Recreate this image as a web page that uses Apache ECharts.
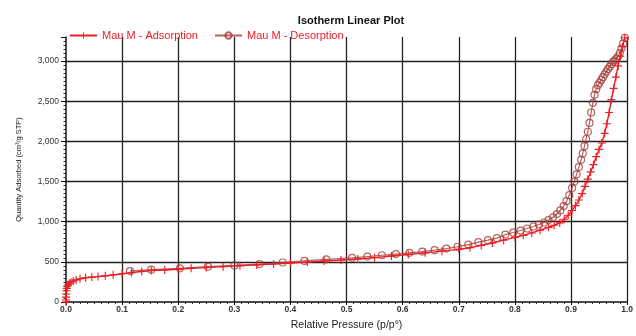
<!DOCTYPE html>
<html>
<head>
<meta charset="utf-8">
<script src="https://cdn.jsdelivr.net/npm/echarts@6/dist/echarts.min.js"></script>
<style>
  html, body { margin: 0; padding: 0; background: #fff; }
  #chart { width: 636px; height: 336px; }
</style>
</head>
<body>
<div id="chart"></div>
<script>
// Nitrogen isotherm, sample "Mau M" — relative pressure vs quantity adsorbed (cm³/g STP)
const adsP = [0, 0.0001, 0.0003, 0.0006, 0.001, 0.0015, 0.0025, 0.004, 0.006, 0.009,
  0.013, 0.018, 0.025, 0.035, 0.046, 0.057, 0.07, 0.084, 0.1, 0.117,
  0.135, 0.152, 0.176, 0.2, 0.223, 0.25, 0.28, 0.31, 0.34, 0.37,
  0.4, 0.43, 0.46, 0.49, 0.52, 0.55, 0.58, 0.61, 0.64, 0.67,
  0.7, 0.72, 0.74, 0.76, 0.78, 0.8, 0.815, 0.83, 0.845, 0.86,
  0.87, 0.88, 0.888, 0.895, 0.902, 0.908, 0.914, 0.92, 0.925, 0.93,
  0.935, 0.94, 0.945, 0.95, 0.955, 0.96, 0.964, 0.968, 0.972, 0.976,
  0.98, 0.984, 0.988, 0.992, 0.996];
const adsV = [0, 25, 60, 100, 140, 170, 198, 215, 233, 250,
  262, 275, 290, 302, 310, 317, 326, 338, 352, 366,
  380, 393, 398, 407, 419, 430, 440, 451, 462, 473,
  485, 497, 510, 522, 536, 552, 572, 592, 612, 633,
  656, 675, 705, 735, 770, 805, 830, 860, 895, 930,
  955, 985, 1030, 1080, 1140, 1200, 1270, 1350, 1440, 1530,
  1620, 1710, 1810, 1900, 1980, 2100, 2220, 2360, 2520, 2660,
  2800, 2940, 3060, 3180, 3290];

const desP = [0.996, 0.993, 0.99, 0.987, 0.984, 0.981, 0.978, 0.975, 0.972, 0.969,
  0.966, 0.963, 0.96, 0.957, 0.954, 0.951, 0.948, 0.945, 0.942, 0.939,
  0.936, 0.933, 0.93, 0.927, 0.924, 0.921, 0.918, 0.914, 0.91, 0.906,
  0.902, 0.897, 0.892, 0.887, 0.881, 0.875, 0.868, 0.86, 0.852, 0.843,
  0.833, 0.822, 0.81, 0.797, 0.783, 0.768, 0.752, 0.735, 0.717, 0.698,
  0.678, 0.657, 0.635, 0.612, 0.588, 0.563, 0.537, 0.51, 0.464, 0.425,
  0.386, 0.345, 0.3, 0.253, 0.203, 0.152, 0.114];
const desV = [3290, 3220, 3160, 3100, 3060, 3030, 3010, 2990, 2960, 2930,
  2900, 2870, 2835, 2800, 2765, 2730, 2700, 2650, 2580, 2480,
  2360, 2230, 2120, 2030, 1940, 1850, 1770, 1680, 1590, 1500,
  1420, 1330, 1255, 1195, 1140, 1095, 1055, 1020, 990, 965,
  940, 915, 890, 865, 840, 795, 770, 745, 715, 688,
  665, 645, 628, 612, 597, 582, 566, 550, 531, 512,
  492, 473, 455, 440, 419, 402, 385];

const seriesNames = ['Mau M - Adsorption', 'Mau M - Desorption'];
const chartTitle = 'Isotherm Linear Plot';
const xAxisTitle = 'Relative Pressure (p/p°)';
const yAxisTitle = 'Quantity Adsorbed (cm³/g STP)';

const zip = (xs, ys) => xs.map((x, i) => [x, ys[i]]);
const plusMark = 'path://M-0.7,-5H0.7V-0.7H5V0.7H0.7V5H-0.7V0.7H-5V-0.7H-0.7Z';

const FONT = '"Liberation Sans", Arial, sans-serif';
const ADS_RED = '#ee1c24';
const DES_RED = '#a8423e';

const chart = echarts.init(document.getElementById('chart'), null, { renderer: 'canvas' });
chart.setOption({
  animation: false,
  backgroundColor: '#fff',
  title: {
    text: chartTitle,
    left: 346, top: 10, textAlign: 'center',
    textStyle: { fontFamily: FONT, fontSize: 11, fontWeight: 'bold', color: '#111' }
  },
  legend: {
    left: 64, top: 25,
    itemWidth: 27, itemHeight: 8, itemGap: 16,
    textStyle: { fontFamily: FONT, fontSize: 11, color: ADS_RED },
    data: seriesNames
  },
  grid: { left: 66, right: 8, top: 37, bottom: 16, containLabel: false },
  xAxis: {
    type: 'value', min: 0, max: 1, interval: 0.1,
    name: xAxisTitle, nameLocation: 'middle', nameGap: 18,
    nameTextStyle: { fontFamily: FONT, fontSize: 10.5, color: '#222' },
    axisLine: { show: true, onZero: false, lineStyle: { color: '#111', width: 1.5 } },
    axisTick: { show: true, length: 3, lineStyle: { color: '#111' } },
    minorTick: { show: true, splitNumber: 8, length: 2, lineStyle: { color: '#333' } },
    axisLabel: {
      fontFamily: FONT, fontSize: 8.5, fontWeight: 'bold', color: '#333', margin: 3,
      formatter: v => v.toFixed(1)
    },
    splitLine: { show: true, showMinLine: false, lineStyle: { color: '#222', width: 1.3 } }
  },
  yAxis: {
    type: 'value', min: 0, max: 3300, interval: 500,
    name: yAxisTitle, nameLocation: 'middle', nameGap: 43, nameRotate: 90,
    nameTextStyle: { fontFamily: FONT, fontSize: 7.5, color: '#222' },
    axisLine: { show: true, onZero: false, lineStyle: { color: '#111', width: 1.5 } },
    axisTick: { show: true, length: 5, lineStyle: { color: '#111' } },
    minorTick: { show: true, splitNumber: 10, length: 2.5, lineStyle: { color: '#333' } },
    axisLabel: {
      fontFamily: FONT, fontSize: 8.5, color: '#333', margin: 7, showMaxLabel: false,
      formatter: v => v.toLocaleString('en-US')
    },
    splitLine: { show: true, showMinLine: false, showMaxLine: false, lineStyle: { color: '#222', width: 1.3 } }
  },
  series: [
    {
      name: seriesNames[0], type: 'line',
      data: zip(adsP, adsV),
      symbol: plusMark, symbolSize: 8, showAllSymbol: true,
      lineStyle: { color: ADS_RED, width: 1.4 },
      itemStyle: { color: ADS_RED },
      z: 3
    },
    {
      name: seriesNames[1], type: 'line',
      data: zip(desP, desV),
      symbol: 'circle', symbolSize: 7, showAllSymbol: true,
      lineStyle: { color: DES_RED, width: 1.2, opacity: 0.85 },
      itemStyle: { color: 'rgba(255,255,255,0)', borderColor: 'rgba(160,60,58,0.8)', borderWidth: 1.2 },
      z: 2
    }
  ]
});
</script>
</body>
</html>
